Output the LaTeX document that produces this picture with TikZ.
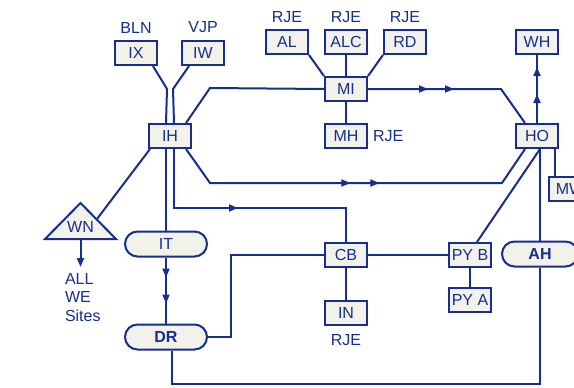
\documentclass[tikz,border=0pt]{standalone}
\usepackage{fontspec}
\setmainfont{Liberation Sans}
\usetikzlibrary{shapes.misc, arrows.meta, decorations.markings}
\definecolor{inkblue}{RGB}{22,46,142}
\definecolor{boxfill}{RGB}{242,241,234}

\begin{document}
\begin{tikzpicture}[x=1pt, y=-1pt, line width=2pt, color=inkblue,
    >={Triangle[length=9pt,width=7pt]},
    font=\fontsize{16}{18.5}\selectfont,
    sitebox/.style={draw, fill=boxfill, minimum width=42pt, minimum height=24pt, inner sep=1pt},
    pill/.style={draw, fill=boxfill, rounded rectangle, minimum width=84pt, minimum height=25pt, inner sep=1pt},
    boldtext/.style={font=\fontsize{16}{18.5}\selectfont\bfseries},
    lbl/.style={inner sep=1pt},
    onearrow/.style={postaction={decorate}, decoration={markings, mark=at position #1 with {\arrow{>}}}},
    twoarrows/.style 2 args={postaction={decorate}, decoration={markings,
        mark=at position #1 with {\arrow{>}}, mark=at position #2 with {\arrow{>}}}}]

        \useasboundingbox (0,0) rectangle (574,388);

        % Sites in boxes
        \node[sitebox] (IX) at (136,53) {IX};
        \node[sitebox] (IW) at (203,53) {IW};
        \node[sitebox] (IH) at (170,136) {IH};
        \node[sitebox] (AL) at (287,42) {AL};
        \node[sitebox] (ALC) at (346,42) {ALC};
        \node[sitebox] (RD) at (405,42) {RD};
        \node[sitebox] (MI) at (346,89) {MI};
        \node[sitebox] (MH) at (346,136) {MH};
        \node[sitebox] (WH) at (537,42) {WH};
        \node[sitebox] (HO) at (537,136) {HO};
        \node[sitebox] (MW) at (570,189) {MW};
        \node[sitebox] (CB) at (346,255) {CB};
        \node[sitebox] (IN) at (346,313) {IN};
        \node[sitebox] (PYB) at (470,255) {PY B};
        \node[sitebox] (PYA) at (470,300) {PY A};

        % Rounded sites
        \node[pill] (IT) at (166,244) {IT};
        \node[pill, boldtext] (DR) at (166,337) {DR};
        \node[pill, boldtext, minimum width=78pt] (AH) at (540,254) {AH};

        % Triangle WN
        \coordinate (WNapex) at (80.5,203);
        \coordinate (WNleft) at (45,239);
        \coordinate (WNright) at (116,239);
        \coordinate (WNside) at (97,219);
        \draw[fill=boxfill] (WNapex) -- (WNright) -- (WNleft) -- cycle;
        \node (WN) at (80.5,227) {WN};
        \node[anchor=north west, align=left, inner sep=0pt] (sites) at (64,272) {ALL\\WE\\Sites};

        % Labels
        \node[lbl, above=5pt] (lblIX) at (IX.north) {BLN};
        \node[lbl, above=5pt] (lblIW) at (IW.north) {VJP};
        \node[lbl, above=4pt] (lblAL) at (AL.north) {RJE};
        \node[lbl, above=4pt] (lblALC) at (ALC.north) {RJE};
        \node[lbl, above=4pt] (lblRD) at (RD.north) {RJE};
        \node[lbl, right=3pt] (lblMH) at (MH.east) {RJE};
        \node[lbl, below=6pt] (lblIN) at (IN.south) {RJE};

        % Feeds into IH
        \draw ([xshift=-5pt]IX.south east) -- ++(14,23) -- ([xshift=-4pt]IH.north);
        \draw ([xshift=8pt]IW.south west) -- ++(-16,23) -- ([xshift=4pt]IH.north);

        % Out of IH
        \draw ([xshift=-4pt]IH.south) -- (IT.north);
        \draw[onearrow=123pt] ([xshift=4pt]IH.south) -- ++(0,59) -| (CB.north);
        \draw ([xshift=-6pt]IH.north east) -- ++(24,-35) -- (MI.west);
        \draw[twoarrows={182pt}{211pt}] ([xshift=-6pt]IH.south east) -- ++(24,34) -- ++(292,0) -- ([xshift=-12pt]HO.south);
        \draw ([xshift=2pt]IH.south west) -- (WNside);
        \draw[->, shorten >=5pt] (WNapex |- WNleft) -- (WNapex |- sites.north);

        % MI and its sites
        \draw (MI.north west) -- (AL.south east);
        \draw (MI.north) -- (ALC.south);
        \draw (MI.north east) -- (RD.south west);
        \draw (MI.south) -- (MH.north);
        \draw[twoarrows={60pt}{86pt}] (MI.east) -- ++(133,0) -- ([xshift=-12pt]HO.north);

        % Lower part
        \draw[twoarrows={20pt}{46pt}] (IT.south) -- (DR.north);
        \draw (DR.east) -- ++(23,0) |- (CB.west);
        \draw ([xshift=6pt]DR.south) -- ++(0,33) -| (AH.south);
        \draw (CB.east) -- (PYB.west);
        \draw (CB.south) -- (IN.north);
        \draw (PYB.south) -- (PYA.north);

        % Around HO
        \draw[twoarrows={29pt}{56pt}] (HO.north) -- (WH.south);
        \draw ([xshift=3pt]HO.south) -- (AH.north);
        \draw ([xshift=7pt]PYB.north) -- ([xshift=3pt]HO.south);
        \draw ([xshift=18pt]HO.south) -- ([xshift=-15pt]MW.north);

\end{tikzpicture}
\end{document}
